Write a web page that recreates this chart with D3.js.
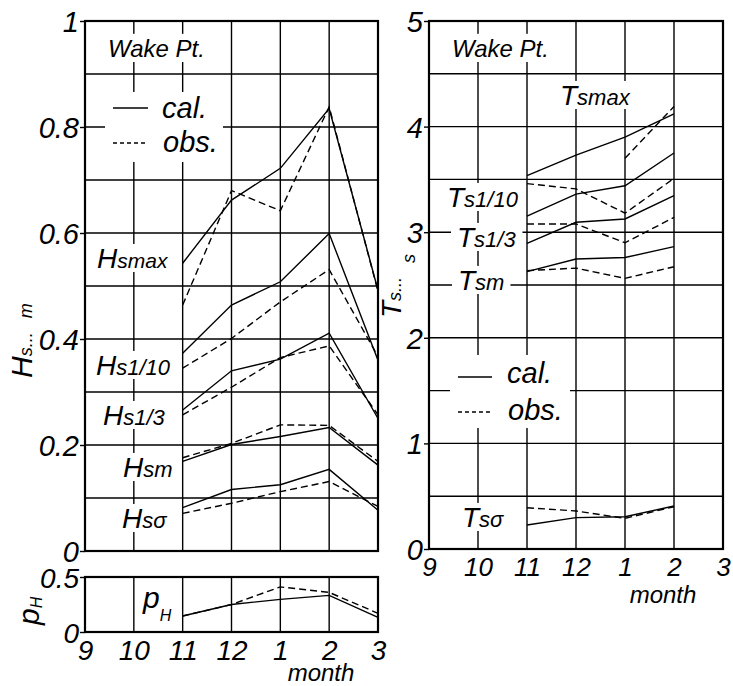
<!DOCTYPE html>
<html><head><meta charset="utf-8">
<script src="https://cdn.jsdelivr.net/npm/d3@7"></script>
<style>
body{margin:0;background:#fff;}
text{font-family:"Liberation Sans",Arial,sans-serif;font-style:italic;fill:#000;}
</style></head>
<body><svg id="c" width="733" height="686"></svg>
<script>
// ---------- data ----------
const months = ['9','10','11','12','1','2','3'];
const hMonths = ['11','12','1','2','3'];
const tMonths = ['11','12','1','2'];
const yTicksH = [0,0.2,0.4,0.6,0.8,1];
const yTicksP = [0,0.5];
const yTicksT = [0,1,2,3,4,5];

const HsmaxCal = [0.543,0.662,0.722,0.835,0.492];
const HsmaxObs = [0.464,0.680,0.642,0.838,0.490];
const Hs110Cal = [0.373,0.464,0.508,0.599,0.360];
const Hs110Obs = [0.345,0.401,0.470,0.531,0.367];
const Hs13Cal  = [0.266,0.340,0.362,0.411,0.250];
const Hs13Obs  = [0.257,0.309,0.365,0.387,0.257];
const HsmCal   = [0.169,0.201,0.216,0.233,0.162];
const HsmObs   = [0.176,0.203,0.238,0.237,0.169];
const HssCal   = [0.082,0.116,0.125,0.154,0.077];
const HssObs   = [0.071,0.090,0.112,0.131,0.084];
const pHCal    = [0.145,0.250,0.297,0.333,0.133];
const pHObs    = [0.145,0.250,0.410,0.360,0.170];

const TsmaxCal = [3.535,3.730,3.900,4.120];
const TsmaxObs = [null,null,3.700,4.190];
const Ts110Cal = [3.153,3.360,3.440,3.750];
const Ts110Obs = [3.460,3.410,3.180,3.510];
const Ts13Cal  = [2.895,3.094,3.125,3.346];
const Ts13Obs  = [3.078,3.078,2.900,3.140];
const TsmCal   = [2.626,2.746,2.760,2.863];
const TsmObs   = [2.636,2.660,2.563,2.673];
const TssCal   = [0.227,0.297,0.306,0.407];
const TssObs   = [0.391,0.360,0.290,0.400];

// ---------- scales ----------
const svg = d3.select('#c');
const xL = d3.scalePoint().domain(months).range([85,378]);
const yL = d3.scaleLinear().domain([0,1]).range([551,21]);
const yP = d3.scaleLinear().domain([0,0.5]).range([632,577]);
const xR = d3.scalePoint().domain(months).range([429,723]);
const yR = d3.scaleLinear().domain([0,5]).range([549,21]);

const gridG = svg.append('g');
const boxG = svg.append('g');
const labG = svg.append('g');
const dataG = svg.append('g');
const frameG = svg.append('g');

function grid(x, y, hv){
  const [x0,x1] = x.range(), [y0,y1] = y.range();
  gridG.selectAll(null).data(months.slice(1,-1)).enter().append('line')
    .attr('x1',d=>x(d)).attr('x2',d=>x(d)).attr('y1',y0).attr('y2',y1)
    .attr('stroke','#000').attr('stroke-width',1.4);
  gridG.selectAll(null).data(hv).enter().append('line')
    .attr('x1',x0).attr('x2',x1).attr('y1',d=>y(d)).attr('y2',d=>y(d))
    .attr('stroke','#000').attr('stroke-width',1.4);
  frameG.append('rect').attr('x',x0).attr('y',y1).attr('width',x1-x0).attr('height',y0-y1)
    .attr('fill','none').attr('stroke','#000').attr('stroke-width',2.2);
}
grid(xL, yL, d3.range(1,10).map(i=>i/10));
grid(xL, yP, []);
grid(xR, yR, d3.range(1,10).map(i=>i/2));

// axes
function yAxis(x0, y, ticks, size){
  const g = frameG.append('g').attr('transform',`translate(${x0},0)`)
    .call(d3.axisLeft(y).tickValues(ticks).tickSize(5).tickPadding(1).tickFormat(d3.format('~g')));
  g.select('.domain').remove();
  g.selectAll('line').attr('stroke','#000').attr('stroke-width',1.4);
  g.selectAll('text').attr('font-size',size).attr('font-family','"Liberation Sans",Arial,sans-serif')
    .attr('font-style','italic').attr('fill','#000').attr('dy','0.36em');
}
yAxis(85, yL, yTicksH, 29);
yAxis(85, yP, yTicksP, 28);
yAxis(429, yR, yTicksT, 29);

function xAxis(y0, x, pad, size){
  const g = frameG.append('g').attr('transform',`translate(0,${y0})`)
    .call(d3.axisBottom(x).tickSize(0).tickPadding(pad));
  g.select('.domain').remove();
  g.selectAll('text').attr('font-size',size).attr('font-family','"Liberation Sans",Arial,sans-serif')
    .attr('font-style','italic').attr('fill','#000');
}
xAxis(632, xL, 8, 28);
xAxis(549, xR, 9, 26);

// labels with white box
function label(x, y, parts, padX=6, padTop=4, padBot=4){
  const t = labG.append('text').attr('x',x).attr('y',y);
  parts.forEach(p=>{
    const s = t.append('tspan').attr('font-size',p.s).text(p.t);
    if(p.dy) s.attr('dy',p.dy);
  });
  const bb = t.node().getBBox();
  const big = d3.max(parts, p=>p.s);
  boxG.append('rect').attr('x',bb.x-padX).attr('width',bb.width+2*padX)
    .attr('y',y-0.716*big-padTop).attr('height',0.716*big+padTop+padBot).attr('fill','#fff');
}
label(108,57,[{t:'Wake Pt.',s:24}],5,6,5);
label(452,57,[{t:'Wake Pt.',s:24}],5,6,5);
label(97,268,[{t:'H',s:28},{t:'smax',s:21}]);
label(96,375,[{t:'H',s:28},{t:'s1/10',s:22}]);
label(103,425,[{t:'H',s:28},{t:'s1/3',s:22}]);
label(123,477,[{t:'H',s:28},{t:'sm',s:22}]);
label(122,528,[{t:'H',s:28},{t:'sσ',s:22}]);
label(560,105,[{t:'T',s:28},{t:'smax',s:22}]);
label(447,207,[{t:'T',s:28},{t:'s1/10',s:22}]);
label(457,247,[{t:'T',s:28},{t:'s1/3',s:22}]);
label(458,290,[{t:'T',s:28},{t:'sm',s:22}]);
label(462,527,[{t:'T',s:28},{t:'sσ',s:22}]);
// p_H inside
{
  const t = labG.append('text').attr('x',143).attr('y',608);
  t.append('tspan').attr('font-size',30).text('p');
  t.append('tspan').attr('font-size',16).attr('dy',13).text('H');
}

// legends
function legend(x0,x1,y0,y1, lx0,lx1, ly1,ly2, tx,ty1,ty2){
  boxG.append('rect').attr('x',x0).attr('y',y0).attr('width',x1-x0).attr('height',y1-y0).attr('fill','#fff');
  labG.append('line').attr('x1',lx0).attr('x2',lx1).attr('y1',ly1).attr('y2',ly1).attr('stroke','#000').attr('stroke-width',1.4);
  labG.append('line').attr('x1',lx0).attr('x2',lx1).attr('y1',ly2).attr('y2',ly2).attr('stroke','#000').attr('stroke-width',1.4).attr('stroke-dasharray','4,3');
  labG.append('text').attr('x',tx).attr('y',ty1).attr('font-size',29).text('cal.');
  labG.append('text').attr('x',tx+1).attr('y',ty2).attr('font-size',29).text('obs.');
}
legend(105,223,92,162, 113,148, 108,143, 162,118,152);
legend(450,570,355,428, 458,492, 377,412, 507,383,420);

// axis titles
{
  const t = labG.append('text').attr('transform','translate(32,378) rotate(-90)');
  t.append('tspan').attr('font-size',30).text('H');
  t.append('tspan').attr('font-size',18).text('s...');
  t.append('tspan').attr('font-size',18).attr('dx',14).text('m');
}
{
  const t = labG.append('text').attr('transform','translate(401,318) rotate(-90)');
  t.append('tspan').attr('font-size',28).text('T');
  t.append('tspan').attr('font-size',18).text('s...');
  t.append('tspan').attr('font-size',18).attr('dx',14).attr('dy',14).text('s');
}
{
  const t = labG.append('text').attr('transform','translate(39,625) rotate(-90)');
  t.append('tspan').attr('font-size',30).text('p');
  t.append('tspan').attr('font-size',16).attr('dy',3).text('H');
}
labG.append('text').attr('x',321).attr('y',681).attr('text-anchor','middle').attr('font-size',24).text('month');
labG.append('text').attr('x',663).attr('y',603).attr('text-anchor','middle').attr('font-size',24).text('month');

// data lines
function series(x, y, cats, vals, dashed){
  const line = d3.line().defined(d=>d[1]!=null).x(d=>x(d[0])).y(d=>y(d[1]));
  dataG.append('path').datum(cats.map((c,i)=>[c,vals[i]])).attr('d',line)
    .attr('fill','none').attr('stroke','#000').attr('stroke-width',1.4)
    .attr('stroke-dasharray',dashed?'7,4':null);
}
[[HsmaxCal,HsmaxObs],[Hs110Cal,Hs110Obs],[Hs13Cal,Hs13Obs],[HsmCal,HsmObs],[HssCal,HssObs]].forEach(([c,o])=>{
  series(xL,yL,hMonths,c,false); series(xL,yL,hMonths,o,true);
});
series(xL,yP,hMonths,pHCal,false); series(xL,yP,hMonths,pHObs,true);
[[TsmaxCal,TsmaxObs],[Ts110Cal,Ts110Obs],[Ts13Cal,Ts13Obs],[TsmCal,TsmObs],[TssCal,TssObs]].forEach(([c,o])=>{
  series(xR,yR,tMonths,c,false); series(xR,yR,tMonths,o,true);
});
</script></body></html>
